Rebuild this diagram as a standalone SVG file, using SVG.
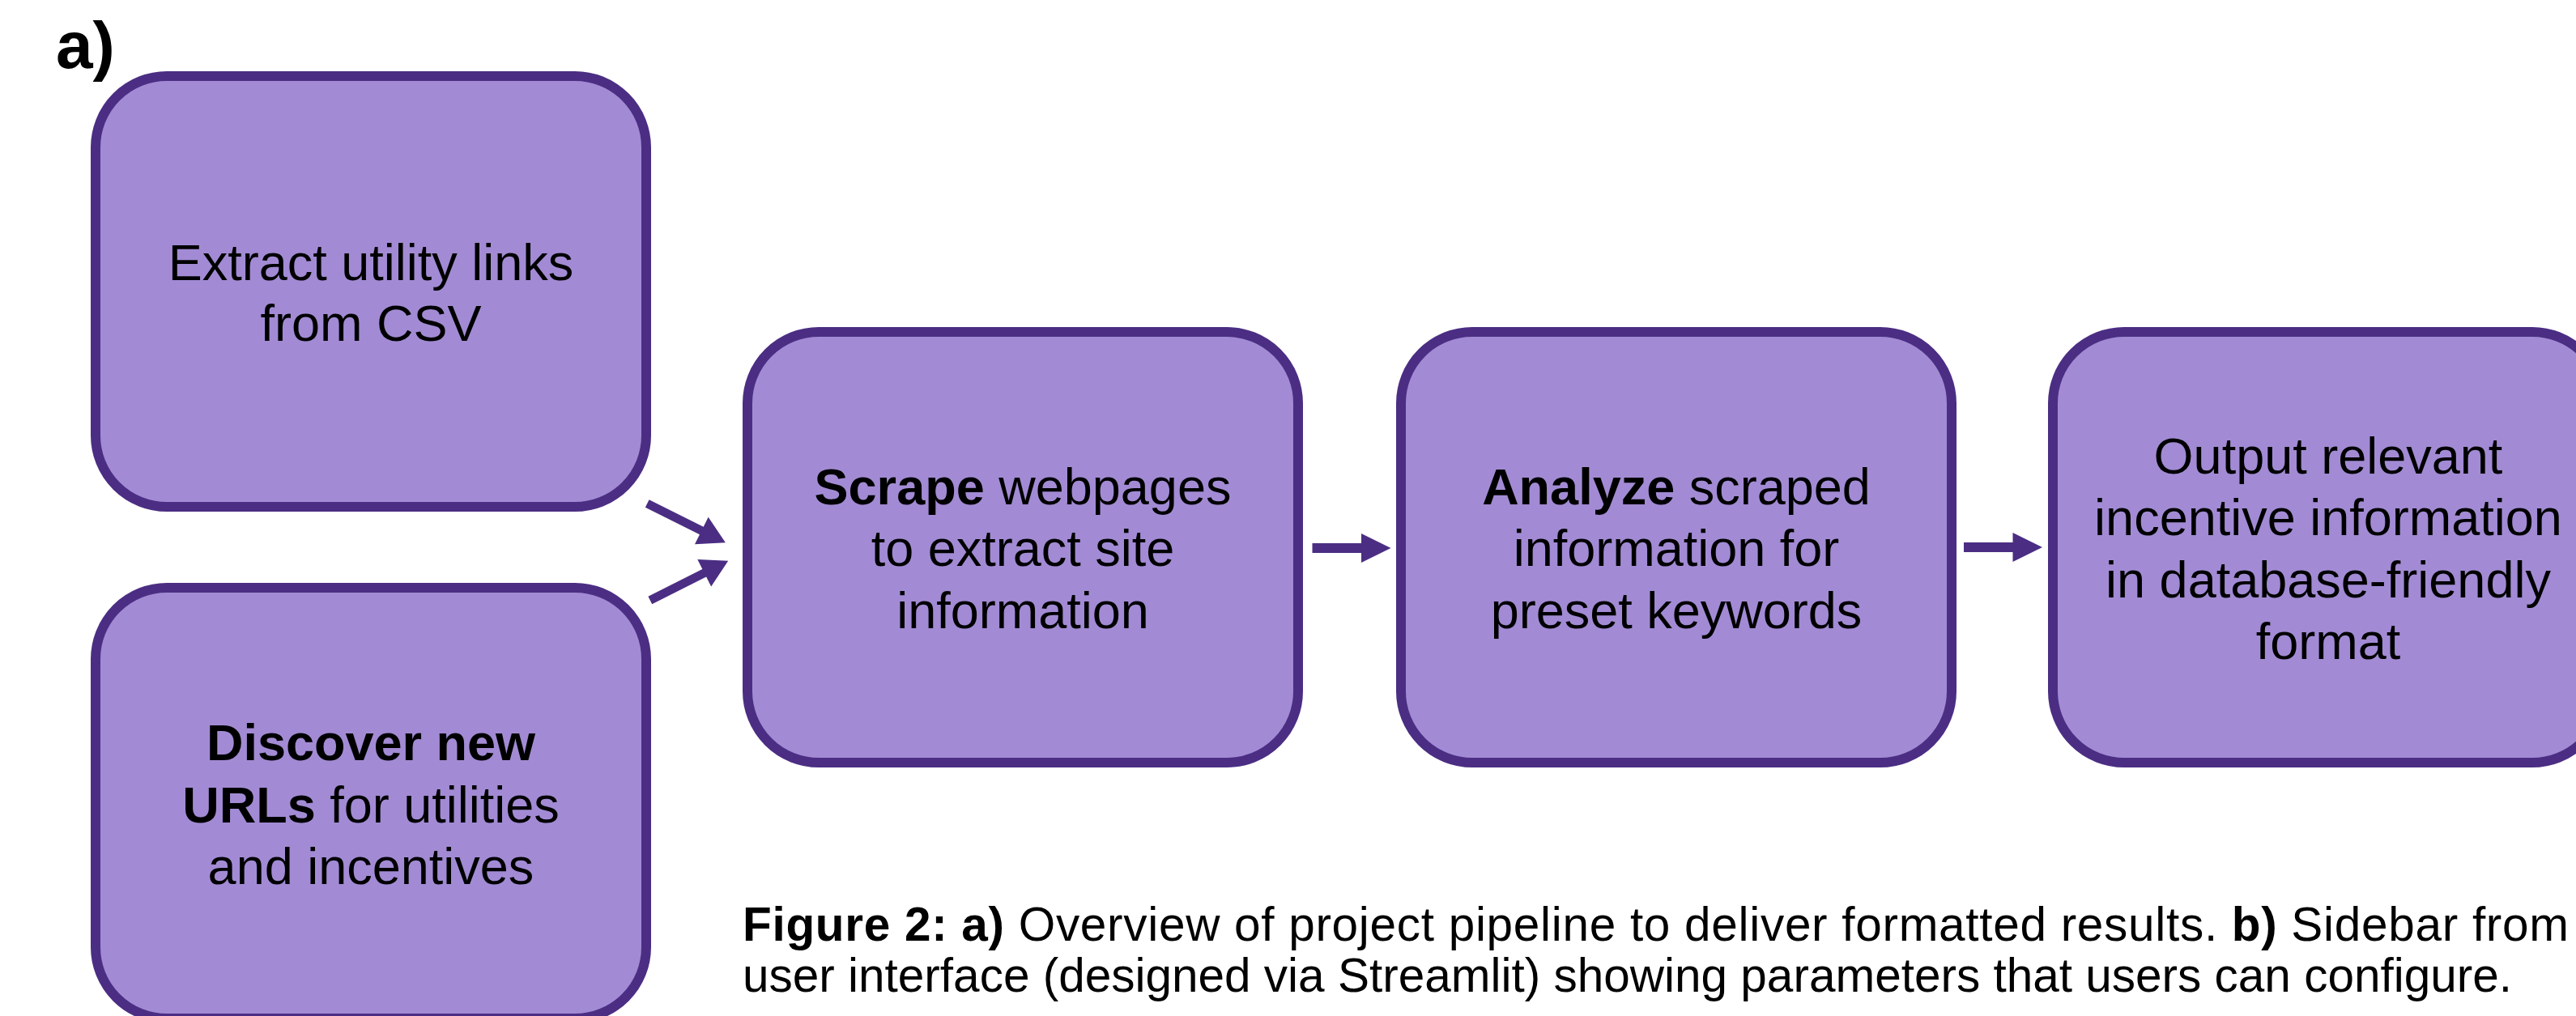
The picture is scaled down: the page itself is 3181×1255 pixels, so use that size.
<svg xmlns="http://www.w3.org/2000/svg" width="3181" height="1255" viewBox="0 0 3181 1255">
  <style>
    .box { fill: #A28BD4; stroke: #4B2E83; stroke-width: 12; }
    .t { font-family: "Liberation Sans", Arial, sans-serif; font-size: 63px; fill: #000; text-anchor: middle; }
    .b { font-weight: bold; }
    .cap { font-family: "Liberation Sans", Arial, sans-serif; font-size: 58.5px; fill: #000; }
    .arr { fill: #4B2E83; }
  </style>
  <defs>
    <path id="diag" d="M0,-5.3 L75,-5.3 L75,-18.7 L108,0 L75,18.7 L75,5.3 L0,5.3 Z"/>
    <path id="horiz" d="M0,-6 L60.5,-6 L60.5,-18 L97,0 L60.5,18 L60.5,6 L0,6 Z"/>
  </defs>
  <rect width="3181" height="1255" fill="#fff"/>

  <text x="69" y="84" class="b" style="font-family:'Liberation Sans', Arial, sans-serif; font-size:82px;">a)</text>

  <g id="node-extract">
    <rect class="box" x="118" y="94" width="680" height="532" rx="88" ry="88"/>
    <text class="t" x="458" y="346">Extract utility links</text>
    <text class="t" x="458" y="421">from CSV</text>
  </g>

  <g id="node-discover">
    <rect class="box" x="118" y="726" width="680" height="532" rx="88" ry="88"/>
    <text class="t" x="458" y="939"><tspan class="b">Discover new</tspan></text>
    <text class="t" x="458" y="1016"><tspan class="b">URLs</tspan> for utilities</text>
    <text class="t" x="458" y="1092">and incentives</text>
  </g>

  <g id="node-scrape">
    <rect class="box" x="923" y="410" width="680" height="532" rx="88" ry="88"/>
    <text class="t" x="1263" y="623"><tspan class="b">Scrape</tspan> webpages</text>
    <text class="t" x="1263" y="699">to extract site</text>
    <text class="t" x="1263" y="776">information</text>
  </g>

  <g id="node-analyze">
    <rect class="box" x="1730" y="410" width="680" height="532" rx="88" ry="88"/>
    <text class="t" x="2070" y="623"><tspan class="b">Analyze</tspan> scraped</text>
    <text class="t" x="2070" y="699">information for</text>
    <text class="t" x="2070" y="776">preset keywords</text>
  </g>

  <g id="node-output">
    <rect class="box" x="2535" y="410" width="680" height="532" rx="88" ry="88"/>
    <text class="t" x="2875" y="585">Output relevant</text>
    <text class="t" x="2875" y="661">incentive information</text>
    <text class="t" x="2875" y="738">in database-friendly</text>
    <text class="t" x="2875" y="814">format</text>
  </g>

  <g id="connectors">
    <use href="#diag" class="arr" transform="translate(799.2,622) rotate(26.5)"/>
    <use href="#diag" class="arr" transform="translate(802.8,741.5) rotate(-26.8)"/>
    <use href="#horiz" class="arr" transform="translate(1620.5,677)"/>
    <use href="#horiz" class="arr" transform="translate(2425,676)"/>
  </g>

  <g id="caption">
    <text class="cap" x="917" y="1162" textLength="2255" lengthAdjust="spacing"><tspan class="b">Figure 2: a)</tspan> Overview of project pipeline to deliver formatted results. <tspan class="b">b)</tspan> Sidebar from</text>
    <text class="cap" x="917" y="1225">user interface (designed via Streamlit) showing parameters that users can configure.</text>
  </g>
</svg>
